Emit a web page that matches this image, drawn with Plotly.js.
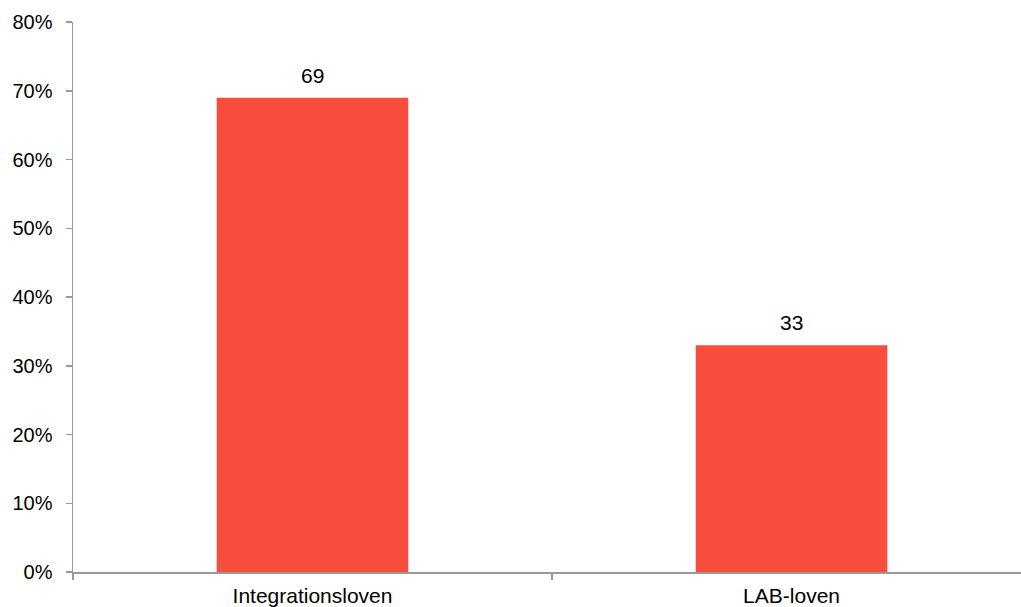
<!DOCTYPE html>
<html>
<head>
<meta charset="utf-8">
<script src="https://cdn.plot.ly/plotly-3.0.1.min.js"></script>
<style>html,body{margin:0;padding:0;background:#fff;}#chart{width:1021px;height:607px;}</style>
</head>
<body>
<div id="chart"></div>
<script>
var categories = ["Integrationsloven", "LAB-loven"];
var values = [69, 33];
var labels = ["69", "33"];
var yTicks = [0, 10, 20, 30, 40, 50, 60, 70, 80];

var trace = {
  type: "bar",
  x: categories,
  y: values,
  width: 0.4,
  marker: {color: "#F94E3D", line: {width: 0}},
  hoverinfo: "skip"
};

var annotations = categories.map(function(c, i) {
  return {
    x: c, y: values[i], text: labels[i], showarrow: false,
    xref: "x", yref: "y", yanchor: "bottom", yshift: 9,
    font: {family: "Liberation Sans, Arial, sans-serif", size: 21, color: "#000"}
  };
});

var layout = {
  width: 1021, height: 607,
  margin: {l: 73, r: 0, t: 22, b: 35, pad: 0},
  paper_bgcolor: "#fff", plot_bgcolor: "#fff",
  showlegend: false,
  font: {family: "Liberation Sans, Arial, sans-serif", size: 20, color: "#000"},
  xaxis: {
    type: "category",
    range: [-0.5, 1.479],
    showline: true, linecolor: "#999", linewidth: 1.5,
    ticks: "outside", tickson: "boundaries", ticklen: 6, tickcolor: "#999", tickwidth: 1.5,
    ticklabelstandoff: 4,
    showgrid: false, zeroline: false,
    tickfont: {size: 21, color: "#000"}
  },
  yaxis: {
    range: [0, 80],
    tickvals: yTicks,
    ticktext: yTicks.map(function(v){return v + "%";}),
    showline: true, linecolor: "#999", linewidth: 1.5,
    ticks: "outside", ticklen: 6, tickcolor: "#999", tickwidth: 1.5,
    ticklabelstandoff: 9,
    showgrid: false, zeroline: false,
    tickfont: {size: 20, color: "#000"}
  },
  annotations: annotations
};

Plotly.newPlot("chart", [trace], layout, {displayModeBar: false, staticPlot: true});
</script>
</body>
</html>
